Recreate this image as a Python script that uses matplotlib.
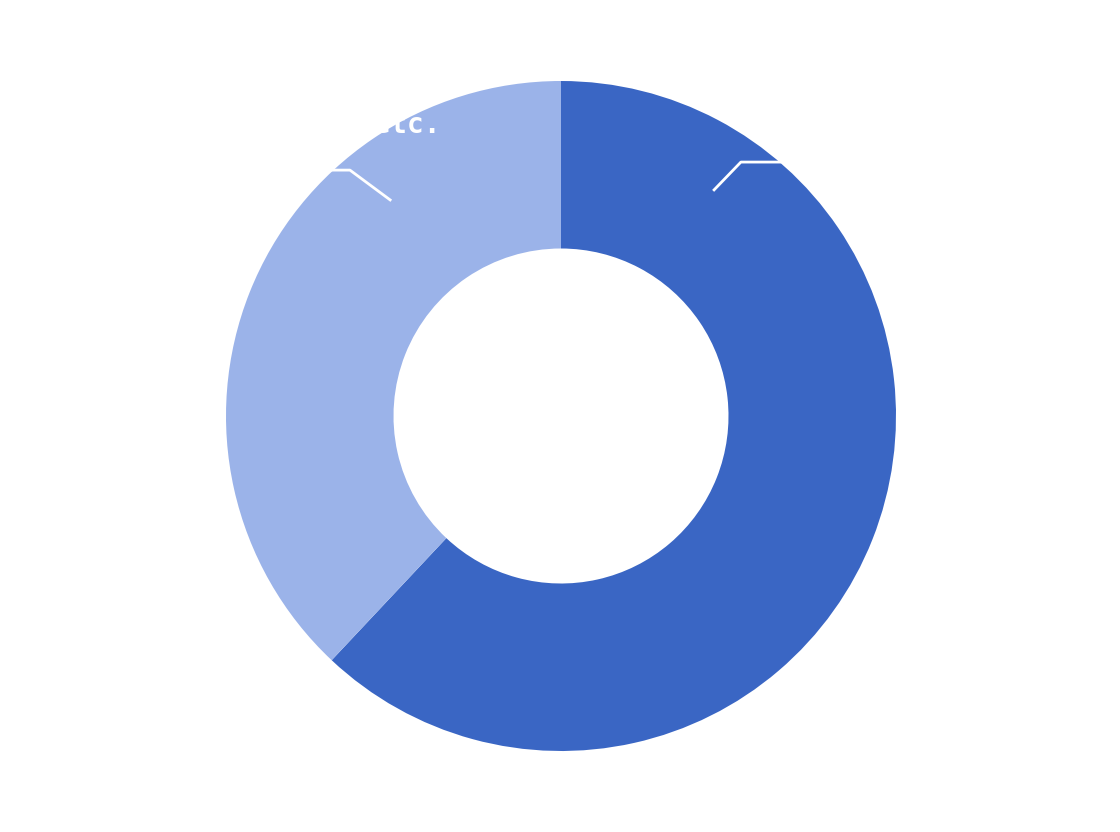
import matplotlib
matplotlib.use("Agg")
import matplotlib.pyplot as plt

categories = ["Agriculture", "Industry, households, etc."]
values = [62, 38]
colors = ["#3A66C4", "#9BB3E9"]

fig = plt.figure(figsize=(11.2, 8.32), dpi=100)
ax = fig.add_axes([0, 0, 1, 1])

wedges, _ = ax.pie(values, colors=colors, startangle=90, counterclock=False,
                   radius=1.0, wedgeprops=dict(width=0.5, edgecolor="none"))

R = 335.0
ax.set_xlim(-561 / R, 559 / R)
ax.set_ylim(-416 / R, 416 / R)
ax.set_aspect("equal")
ax.axis("off")

# leader lines (white, as in the reference)
ax.plot([0.457, 0.537, 0.654], [0.675, 0.758, 0.758], color="white", lw=2)
ax.plot([-0.51, -0.63, -0.69], [0.645, 0.734, 0.734], color="white", lw=2)

# labels (white text, as in the reference)
ax.text(0.68, 0.86, categories[0], color="white", fontsize=17,
        fontweight="bold", family="DejaVu Sans Mono", ha="left", va="center")
ax.text(-0.36, 0.87, categories[1], color="white", fontsize=20,
        fontweight="bold", family="DejaVu Sans Mono", ha="right", va="center")

fig.savefig("out.png", dpi=100, facecolor="white")
